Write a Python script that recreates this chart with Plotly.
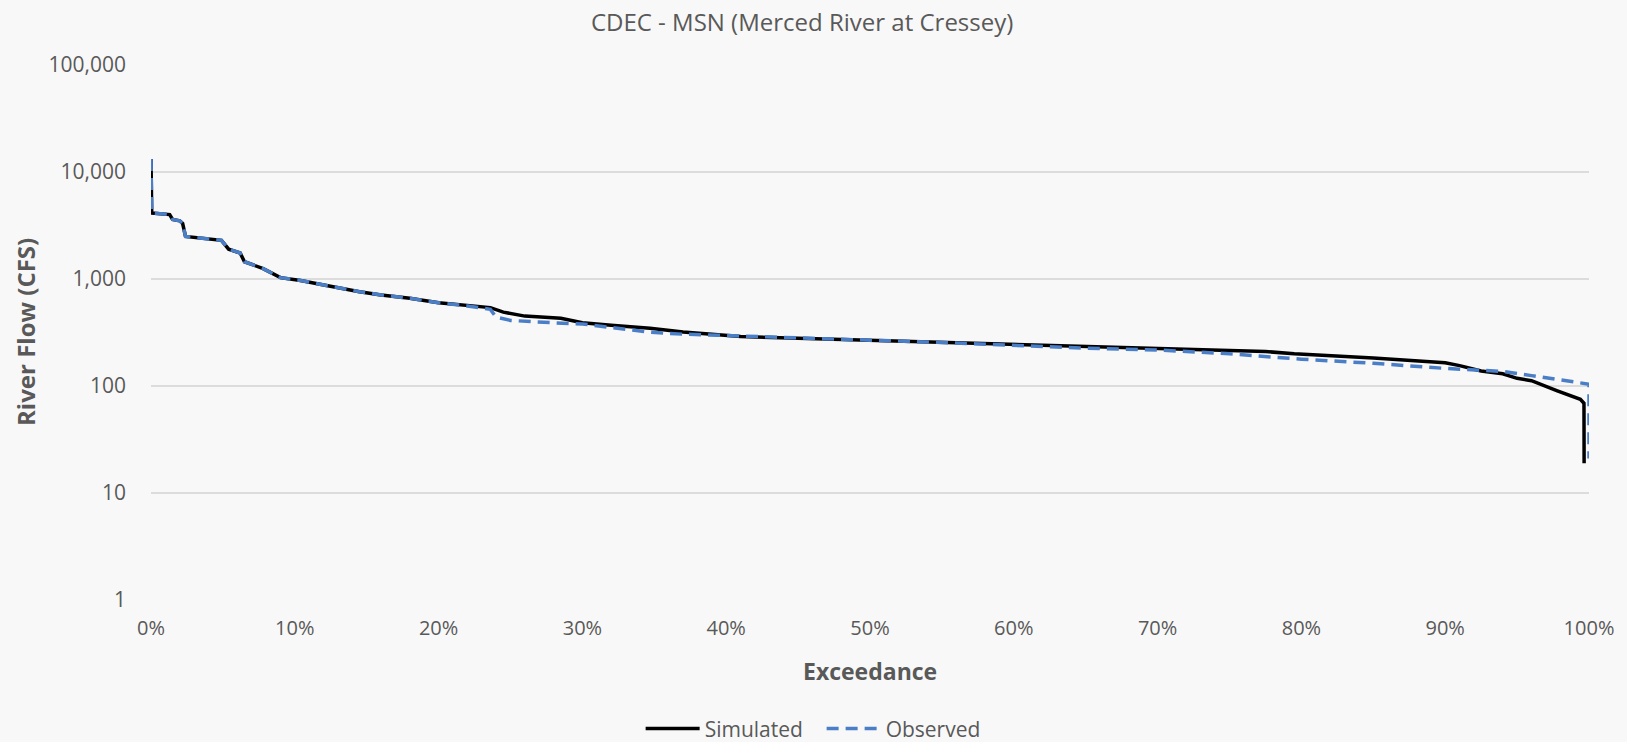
import plotly.graph_objects as go

# Exceedance (%) and flow (CFS)
sim_exceed = [0, 0.05, 1.3, 1.5, 2.0, 2.2, 2.4, 3.5, 4.9, 5.4, 6.2, 6.5, 7.8, 9.0, 10.4, 12.2, 13.2,
              14.5, 16, 18, 20, 22, 23.6, 24.5, 26, 28.5, 30, 32, 34.7, 37, 41, 45, 50, 55, 60, 65,
              70, 75, 77.5, 79.5, 85, 90, 91, 92.5, 94, 95, 96, 97.8, 99.4, 99.65, 99.66]
sim_flow = [13200, 4140, 4000, 3600, 3500, 3300, 2500, 2420, 2300, 1900, 1750, 1450, 1250, 1030, 970,
            870, 820, 760, 710, 660, 600, 560, 540, 490, 450, 430, 390, 370, 347, 320, 290, 280, 268,
            258, 245, 235, 225, 218, 210, 200, 183, 165, 155, 138, 130, 118, 112, 90, 75, 69, 19]

obs_exceed = [0, 0.05, 1.3, 1.5, 2.0, 2.2, 2.4, 3.5, 4.9, 5.4, 6.2, 6.5, 7.8, 9.0, 10.4, 12.2, 13.2,
              14.5, 16, 18, 20, 22, 23.6, 24.0, 25, 26.4, 28, 30, 32, 34.7, 37, 40, 45, 50, 55, 60,
              65, 70, 75, 80, 85, 90, 92.5, 94, 96, 97.8, 99, 100, 100.0001]
obs_flow = [13200, 4140, 4000, 3600, 3500, 3300, 2500, 2420, 2300, 1900, 1750, 1450, 1250, 1030, 970,
            870, 820, 760, 710, 660, 600, 560, 520, 440, 410, 398, 390, 380, 350, 318, 305, 295, 280,
            268, 255, 238, 226, 217, 200, 178, 163, 146, 140, 137, 125, 116, 110, 104, 21]

y_tick_vals = [1, 10, 100, 1000, 10000, 100000]
y_tick_text = ["1", "10", "100", "1,000", "10,000", "100,000"]
x_tick_vals = [0, 0.1, 0.2, 0.3, 0.4, 0.5, 0.6, 0.7, 0.8, 0.9, 1.0]

FONT = "Open Sans"
GRAY = "#595959"

fig = go.Figure()
fig.add_trace(go.Scatter(
    x=[v / 100 for v in sim_exceed], y=sim_flow, mode="lines", name="Simulated",
    line=dict(color="#000000", width=3.5)))
fig.add_trace(go.Scatter(
    x=[v / 100 for v in obs_exceed], y=obs_flow, mode="lines", name="Observed",
    line=dict(color="#4A7EC7", width=3.5, dash="12px,7px")))

fig.update_layout(
    width=1627, height=742,
    margin=dict(l=151, r=38, t=65, b=142, autoexpand=False),
    paper_bgcolor="#f8f8f8", plot_bgcolor="#f8f8f8",
    font=dict(family=FONT, size=20, color=GRAY),
    title=dict(text="CDEC - MSN (Merced River at Cressey)", x=0.493, xanchor="center",
               y=1 - 23 / 742, yanchor="middle", font=dict(family=FONT, size=24, color=GRAY)),
    showlegend=True,
    legend=dict(orientation="h", x=0.3405, xanchor="left", y=-0.241, yanchor="middle",
                font=dict(family=FONT, size=21, color=GRAY), bgcolor="rgba(0,0,0,0)",
                itemwidth=54, tracegroupgap=0, entrywidth=112, entrywidthmode="pixels"),
    xaxis=dict(range=[0, 1.0], tickvals=x_tick_vals, tickformat=".0%", showgrid=False,
               zeroline=False, showline=False, ticks="", ticklabelstandoff=14,
               tickfont=dict(family=FONT, size=20, color=GRAY)),
    yaxis=dict(type="log", range=[0, 5], tickvals=y_tick_vals, ticktext=y_tick_text,
               showgrid=True, gridcolor="#dcdcdc", gridwidth=1.5, zeroline=False, showline=False,
               ticks="", ticklabelstandoff=24,
               tickfont=dict(family=FONT, size=21, color=GRAY)),
    annotations=[
        dict(text="<b>Exceedance</b>", xref="paper", yref="paper", x=0.5, y=-0.1327,
             xanchor="center", yanchor="middle", showarrow=False,
             font=dict(family=FONT, size=23, color=GRAY)),
        dict(text="<b>River Flow (CFS)</b>", xref="paper", yref="paper", x=-0.0869, y=0.501,
             xanchor="center", yanchor="middle", textangle=-90, showarrow=False,
             font=dict(family=FONT, size=24, color=GRAY)),
    ],
)

fig.write_html("out.html", config={"displayModeBar": False},
               post_script="document.body.style.margin='0';document.body.style.background='#f8f8f8';")
